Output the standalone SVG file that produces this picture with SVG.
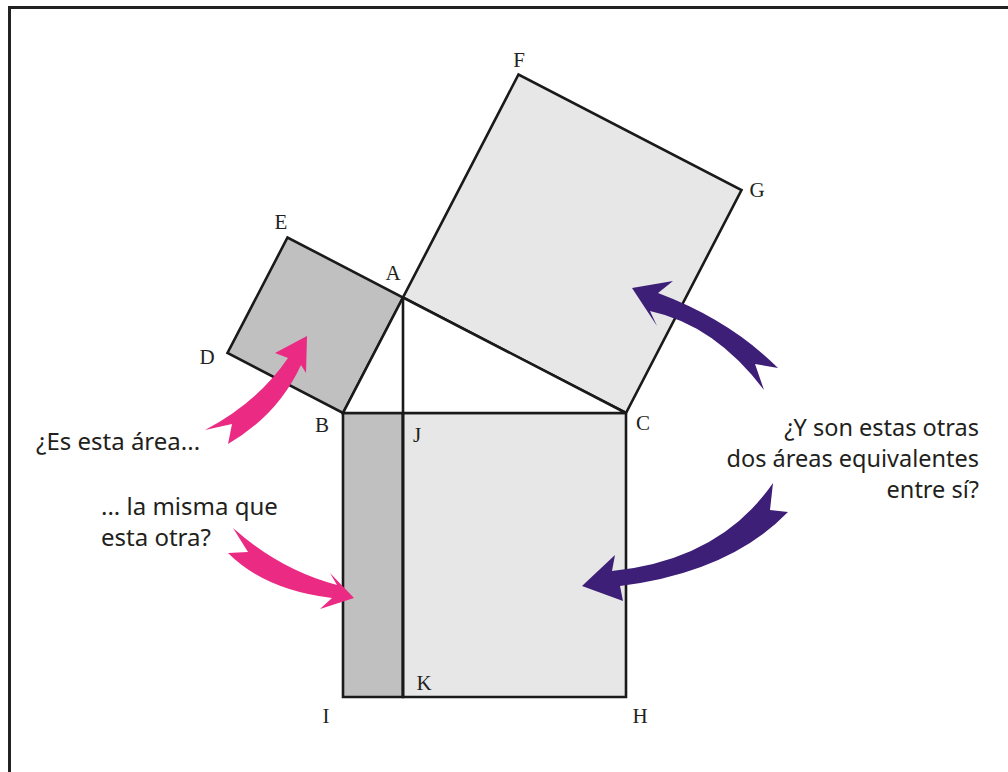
<svg xmlns="http://www.w3.org/2000/svg" width="1008" height="772" viewBox="0 0 1008 772">
<style>
.sq{stroke:#1a1a1a;stroke-width:2.6;stroke-linejoin:miter}
.dark{fill:#c0c0c0}
.light{fill:#e8e7e7}
.lbl{font-family:"Liberation Serif",serif;font-size:21px;fill:#231f20}
.txt{font-family:"Noto Sans","DejaVu Sans",sans-serif;font-size:24px;fill:#231f20}
.txr{font-family:"Noto Sans","DejaVu Sans",sans-serif;font-size:23.5px;fill:#231f20}
.pink{fill:#ea2a83}
.purple{fill:#3d1f77}
</style>
<rect x="0" y="0" width="1008" height="772" fill="#ffffff"/>
<path d="M9.5 772 V7.5 H1008" fill="none" stroke="#222" stroke-width="3"/>
<g id="square-ABDE"><polygon class="sq dark" points="403,297.5 343,413 227.5,353 287.5,237.5"/></g>
<g id="square-ACGF"><polygon class="sq light" points="403,297.5 626,413 741.5,190 518.5,74.5"/></g>
<g id="rect-BJKI"><polygon class="sq dark" points="343,413 403,413 403,697 343,697"/></g>
<g id="rect-JCHK"><polygon class="sq light" points="403,413 626,413 626,697 403,697"/></g>
<g id="triangle-ABC"><polygon class="sq" fill="#ffffff" points="403,297.5 343,413 626,413"/></g>
<g id="connectors">
<line class="sq" x1="403" y1="297.5" x2="403" y2="697"/>
<path class="pink" d="M307 336 L275 353 L288 358 Q258 402 205 430 L232 424 L228 444 Q278 415 301 365 L306 373 Z"/>
<path class="pink" d="M354 598 L330 573 L337 585 Q280 570 233 528 L248 552 L228 553 Q265 590 332 598 L320 609 Z"/>
<path class="purple" d="M632 288 L673 281 L658 293 Q730 320 778 368 L755 364 L764 390 Q715 325 650 311 L657 326 Z"/>
<path class="purple" d="M582 586 L615 555 L612 571 Q720 560 773 483 L770 510 L788 512 Q730 572 620 586 L623 601 Z"/>
</g>
<g id="labels">
<text class="lbl" x="281" y="229" text-anchor="middle">E</text>
<text class="lbl" x="393" y="280" text-anchor="middle">A</text>
<text class="lbl" x="519" y="67" text-anchor="middle">F</text>
<text class="lbl" x="757" y="197" text-anchor="middle">G</text>
<text class="lbl" x="207" y="364" text-anchor="middle">D</text>
<text class="lbl" x="322" y="432" text-anchor="middle">B</text>
<text class="lbl" x="417" y="442" text-anchor="middle">J</text>
<text class="lbl" x="643" y="430" text-anchor="middle">C</text>
<text class="lbl" x="424" y="690" text-anchor="middle">K</text>
<text class="lbl" x="326" y="723" text-anchor="middle">I</text>
<text class="lbl" x="640" y="723" text-anchor="middle">H</text>
</g>
<g id="texts">
<text class="txt" x="36" y="450">¿Es esta área...</text>
<text class="txt" x="101" y="515">... la misma que</text>
<text class="txt" x="101" y="546">esta otra?</text>
<text class="txr" x="979" y="436" text-anchor="end">¿Y son estas otras</text>
<text class="txr" x="979" y="467" text-anchor="end">dos áreas equivalentes</text>
<text class="txr" x="979" y="498" text-anchor="end">entre sí?</text>
</g>
</svg>
